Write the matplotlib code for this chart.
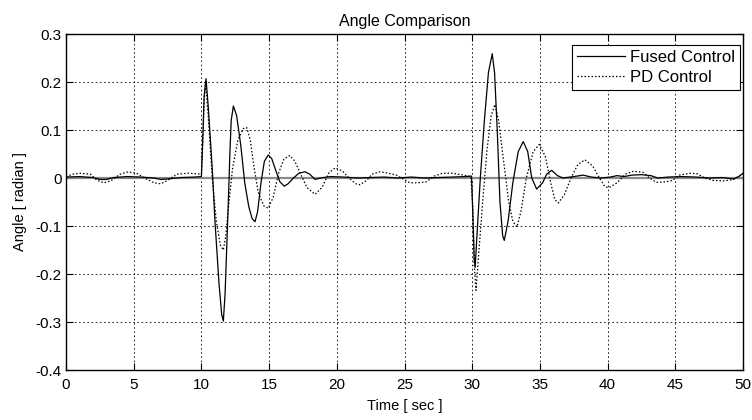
import matplotlib
matplotlib.use("Agg")
import matplotlib.pyplot as plt

# Fused control: (time, angle) points
fused_t = [0, 1, 2, 2.5, 3, 3.5, 4.5, 5.5, 6.5, 7, 7.5, 8.5, 9.5, 10.0,
           10.1, 10.2, 10.34, 10.5, 10.8, 11.0, 11.3, 11.5, 11.62, 11.75, 11.9,
           12.0, 12.1, 12.2, 12.36, 12.6, 12.9, 13.2, 13.5, 13.75, 13.96, 14.15,
           14.4, 14.65, 14.94, 15.2, 15.5, 15.8, 16.12, 16.4, 16.8, 17.2, 17.65,
           18.0, 18.4, 18.8, 19.5, 20.5, 21.5, 22.5, 23.5, 24.5, 25.5, 26.5,
           27.5, 28.5, 29.5, 29.95,
           30.05, 30.15, 30.22, 30.35, 30.6, 30.9, 31.2, 31.48, 31.65, 31.85,
           32.05, 32.25, 32.37, 32.65, 33.0, 33.4, 33.77, 34.1, 34.4, 34.76,
           35.2, 35.5, 35.87, 36.3, 36.7, 37.5, 38.2, 38.8, 39.5, 40.2, 40.7,
           41.2, 41.8, 42.5, 43.2, 43.7, 44.5, 45.5, 46.5, 47.5, 48.5, 49.3,
           49.7, 50]
fused_a = [0.002, 0.003, 0.001, -0.003, -0.003, 0.001, 0.003, 0.002, 0.0,
           -0.003, -0.002, 0.001, 0.002, 0.003,
           0.08, 0.17, 0.207, 0.15, 0.02, -0.09, -0.22, -0.285, -0.298, -0.24,
           -0.12, -0.04, 0.05, 0.12, 0.15, 0.13, 0.07, -0.01, -0.06, -0.085,
           -0.091, -0.07, -0.01, 0.035, 0.048, 0.04, 0.015, -0.008, -0.017,
           -0.012, 0.0, 0.01, 0.013, 0.008, -0.003, 0.0, 0.003, 0.002, 0.0,
           0.001, 0.002, 0.0, 0.002, 0.0, 0.001, 0.002, 0.003, 0.004,
           -0.08, -0.17, -0.186, -0.12, 0.0, 0.12, 0.22, 0.259, 0.22, 0.1,
           -0.05, -0.12, -0.13, -0.09, -0.01, 0.055, 0.076, 0.055, 0.0, -0.023,
           -0.01, 0.008, 0.016, 0.005, 0.0, 0.003, 0.006, 0.002, 0.0, 0.002,
           0.005, 0.003, 0.006, 0.007, 0.005, 0.0, 0.002, 0.003, 0.002, 0.0,
           0.001, -0.002, 0.003, 0.01]

# PD control
pd_t = [0, 0.5, 1.0, 1.8, 2.3, 2.8, 3.3, 4.0, 4.6, 5.2, 5.8, 6.5, 7.0, 7.5,
        8.2, 9.0, 9.6, 10.0,
        10.1, 10.2, 10.3, 10.5, 10.8, 11.1, 11.4, 11.62, 11.8, 12.0, 12.3,
        12.7, 13.1, 13.35, 13.6, 13.9, 14.2, 14.6, 14.94, 15.3, 15.7, 16.1,
        16.54, 16.9, 17.3, 17.8, 18.39, 18.9, 19.4, 19.87, 20.4, 20.9, 21.4,
        21.71, 22.2, 22.6, 23.2, 23.8, 24.4, 24.9, 25.4, 26.0, 26.6, 27.2,
        27.8, 28.5, 29.2, 29.9,
        30.05, 30.15, 30.28, 30.45, 30.8, 31.1, 31.4, 31.68, 31.95, 32.3,
        32.7, 33.0, 33.3, 33.6, 34.0, 34.5, 34.96, 35.4, 35.8, 36.1, 36.36,
        36.8, 37.3, 37.8, 38.33, 38.9, 39.4, 39.8, 40.1, 40.7, 41.3, 41.9,
        42.6, 43.1, 43.6, 44.3, 44.8, 45.3, 46.1, 46.6, 47.2, 47.8, 48.6,
        49.3, 49.8, 50]
pd_a = [0.003, 0.008, 0.01, 0.008, -0.005, -0.01, -0.006, 0.008, 0.013, 0.01,
        0.0, -0.01, -0.012, -0.005, 0.008, 0.01, 0.009, 0.008,
        0.08, 0.16, 0.2, 0.13, 0.0, -0.09, -0.14, -0.15, -0.12, -0.06, 0.02,
        0.08, 0.103, 0.105, 0.08, 0.02, -0.03, -0.058, -0.063, -0.04, 0.01,
        0.04, 0.047, 0.035, 0.01, -0.02, -0.034, -0.02, 0.01, 0.021, 0.015,
        0.0, -0.012, -0.014, -0.005, 0.008, 0.013, 0.01, 0.006, -0.002, -0.01,
        -0.01, -0.008, 0.004, 0.01, 0.01, 0.007, 0.003,
        -0.06, -0.18, -0.234, -0.17, -0.04, 0.06, 0.13, 0.153, 0.12, 0.04,
        -0.05, -0.09, -0.102, -0.07, 0.0, 0.055, 0.07, 0.045, -0.01, -0.045,
        -0.052, -0.035, 0.0, 0.028, 0.038, 0.025, 0.0, -0.018, -0.02, -0.01,
        0.008, 0.014, 0.012, 0.0, -0.009, -0.008, -0.005, 0.006, 0.01, 0.009,
        0.0, -0.005, -0.006, -0.003, 0.006, 0.008]

x_ticks = [0, 5, 10, 15, 20, 25, 30, 35, 40, 45, 50]
y_ticks = [-0.4, -0.3, -0.2, -0.1, 0, 0.1, 0.2, 0.3]
y_labels = ["-0.4", "-0.3", "-0.2", "-0.1", "0", "0.1", "0.2", "0.3"]

plt.rcParams['font.family'] = ['Liberation Sans', 'DejaVu Sans']
plt.rcParams['font.size'] = 11

fig = plt.figure(figsize=(7.52, 4.2), dpi=100)
ax = fig.add_axes([0.0878, 0.119, 0.9002, 0.8])

ax.axhline(0, color='#8a8a8a', lw=1.6, zorder=2)
ax.plot(fused_t, fused_a, color='black', lw=0.9, label='Fused Control', zorder=3)
ax.plot(pd_t, pd_a, color='black', lw=0.9, ls=(0, (1.2, 1.6)),
        label='PD Control', zorder=3)

ax.set_xlim(0, 50)
ax.set_ylim(-0.4, 0.3)
ax.set_xticks(x_ticks)
ax.set_yticks(y_ticks)
ax.set_yticklabels(y_labels)
ax.tick_params(direction='in', top=True, right=True, length=5, width=0.8,
               labelsize=11)
ax.tick_params(axis='x', pad=6)
ax.tick_params(axis='y', pad=3)
ax.grid(True, color='black', ls=(0, (2, 3)), lw=0.6)
for s in ax.spines.values():
    s.set_linewidth(1.0)

ax.set_title('Angle Comparison', fontsize=11.5, pad=6)
ax.set_xlabel('Time [ sec ]', fontsize=10.5, labelpad=5)
ax.set_ylabel('Angle [ radian ]', fontsize=10.5, labelpad=6)

leg = ax.legend(loc='upper right', bbox_to_anchor=(0.9956, 0.967),
                borderaxespad=0, fancybox=False, framealpha=1,
                edgecolor='black', handlelength=2.9, handletextpad=0.3,
                fontsize=12, borderpad=0.3, labelspacing=0.3)
leg.get_frame().set_linewidth(0.8)

plt.savefig('out.png', dpi=100)
